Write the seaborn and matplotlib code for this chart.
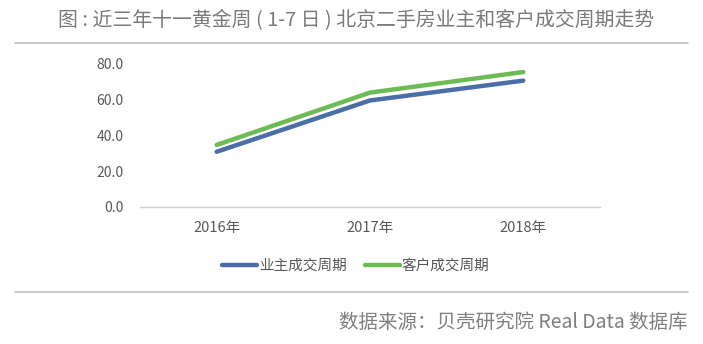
import matplotlib
matplotlib.use("Agg")
import matplotlib.pyplot as plt
import seaborn as sns
import pandas as pd
from matplotlib.lines import Line2D

sns.set_theme(style="white")
plt.rcParams['font.family'] = ['Noto Sans CJK SC', 'DejaVu Sans']

years = ["2016年", "2017年", "2018年"]
owner_cycle = [30.9, 59.6, 70.7]
client_cycle = [34.7, 64.0, 75.5]
series_names = ["业主成交周期", "客户成交周期"]
y_ticks = [0, 20, 40, 60, 80]

blue = "#4A6FA8"
green = "#6CBB55"
text_gray = "#595959"

df = pd.DataFrame({
    "year": years * 2,
    "pos": [0.5, 1.5, 2.5] * 2,
    "value": owner_cycle + client_cycle,
    "series": [series_names[0]] * 3 + [series_names[1]] * 3,
})

fig = plt.figure(figsize=(7.03, 3.44), dpi=100)
ax = fig.add_axes([140 / 703, 1 - 207 / 344, 460 / 703, 143 / 344])

sns.lineplot(data=df, x="pos", y="value", hue="series",
             palette=[blue, green], linewidth=3.2, ax=ax, legend=False,
             solid_capstyle="round", sort=False)

ax.set_xlim(0, 3)
ax.set_ylim(0, 80)
ax.set_xticks([0.5, 1.5, 2.5])
ax.set_xticklabels(years, fontsize=10.5, color=text_gray)
ax.set_yticks(y_ticks)
ax.set_yticklabels([f"{v:.1f}" for v in y_ticks], fontsize=10, color=text_gray)
ax.tick_params(axis="x", length=0, pad=10)
ax.tick_params(axis="y", length=0, pad=12)
ax.set_xlabel("")
ax.set_ylabel("")
for side in ["top", "right", "left"]:
    ax.spines[side].set_visible(False)
ax.spines["bottom"].set_color("#d0d0d0")
ax.spines["bottom"].set_linewidth(1.0)
for ln in ax.lines:
    ln.set_clip_on(False)

# Title and separators
fig.text(356 / 703, 1 - 21 / 344, "图 : 近三年十一黄金周 ( 1-7 日 ) 北京二手房业主和客户成交周期走势",
         ha="center", va="center", fontsize=14.3, color="#7a7a7a")
fig.add_artist(Line2D([15 / 703, 688 / 703], [1 - 43 / 344] * 2, color="#c0c0c0", lw=1.2))
fig.add_artist(Line2D([15 / 703, 688 / 703], [1 - 292 / 344] * 2, color="#c0c0c0", lw=1.2))

# Legend
handles = [Line2D([], [], color=blue, lw=3.2, solid_capstyle="round"),
           Line2D([], [], color=green, lw=3.2, solid_capstyle="round")]
fig.legend(handles, series_names, loc="center", bbox_to_anchor=(356 / 703, 1 - 266 / 344),
           ncol=2, frameon=False, fontsize=10.5, handlelength=2.4, handletextpad=0.1,
           columnspacing=1.3, labelcolor=text_gray)

# Source
fig.text(688 / 703, 1 - 322 / 344, "数据来源：贝壳研究院 Real Data 数据库",
         ha="right", va="center", fontsize=14, color="#7f7f7f")

fig.savefig("out.png", dpi=100)
